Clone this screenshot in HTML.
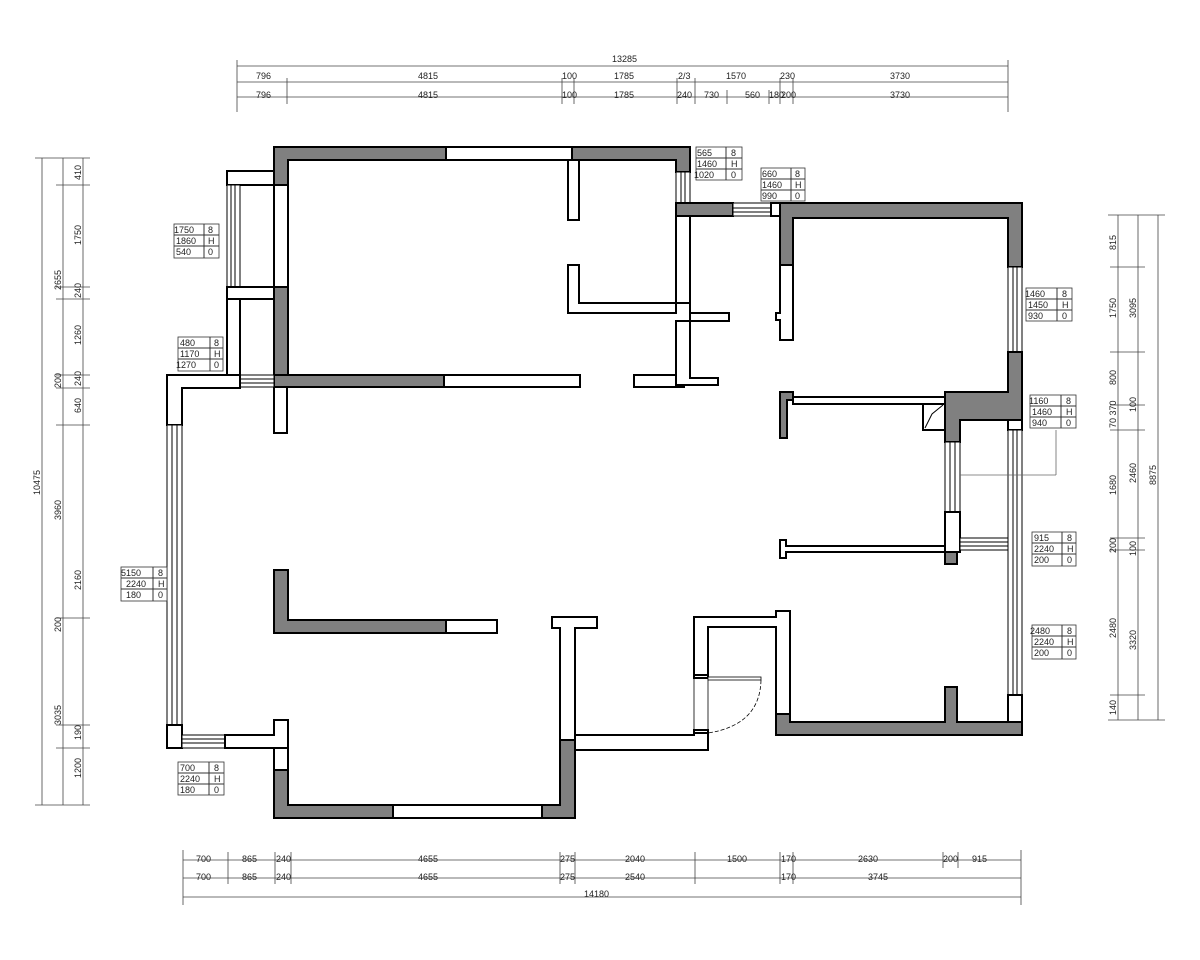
<!DOCTYPE html>
<html><head><meta charset="utf-8"><style>
body{margin:0;background:#fff}
svg{display:block}
text{font-family:"Liberation Sans",sans-serif;font-size:9px;fill:#222}
.w{fill:#fff;stroke:#000;stroke-width:2}
.g{fill:#808080;stroke:#000;stroke-width:2}
.n{fill:#808080;stroke:none}
.win{fill:#fff;stroke:#000;stroke-width:1}
.d{stroke:#444;stroke-width:0.8;fill:none}
.t rect{fill:#fff;stroke:#333;stroke-width:0.8}
</style></head><body>
<svg width="1200" height="960" viewBox="0 0 1200 960">
<!-- top dims -->
<g class="d">
<line x1="237" y1="66" x2="1008" y2="66"/><line x1="237" y1="82" x2="1008" y2="82"/><line x1="237" y1="97" x2="1008" y2="97"/>
<line x1="237" y1="60" x2="237" y2="112"/><line x1="1008" y1="60" x2="1008" y2="112"/>
<line x1="287" y1="78" x2="287" y2="104"/><line x1="562" y1="78" x2="562" y2="104"/><line x1="574" y1="78" x2="574" y2="104"/><line x1="677" y1="78" x2="677" y2="104"/><line x1="695" y1="78" x2="695" y2="104"/><line x1="727" y1="90" x2="727" y2="104"/><line x1="769" y1="90" x2="769" y2="104"/><line x1="780" y1="78" x2="780" y2="104"/><line x1="793" y1="78" x2="793" y2="104"/>
</g>
<text x="612" y="62">13285</text>
<text x="256" y="79">796</text><text x="418" y="79">4815</text><text x="562" y="79">100</text><text x="614" y="79">1785</text><text x="678" y="79">2/3</text><text x="726" y="79">1570</text><text x="780" y="79">230</text><text x="890" y="79">3730</text>
<text x="256" y="98">796</text><text x="418" y="98">4815</text><text x="562" y="98">100</text><text x="614" y="98">1785</text><text x="677" y="98">240</text><text x="704" y="98">730</text><text x="745" y="98">560</text><text x="769" y="98">180</text><text x="781" y="98">200</text><text x="890" y="98">3730</text>
<!-- bottom dims -->
<g class="d">
<line x1="183" y1="860" x2="1021" y2="860"/><line x1="183" y1="878" x2="1021" y2="878"/><line x1="183" y1="897" x2="1021" y2="897"/>
<line x1="183" y1="850" x2="183" y2="905"/><line x1="1021" y1="850" x2="1021" y2="905"/>
<line x1="228" y1="852" x2="228" y2="884"/><line x1="275" y1="852" x2="275" y2="884"/><line x1="291" y1="852" x2="291" y2="884"/><line x1="560" y1="852" x2="560" y2="884"/><line x1="575" y1="852" x2="575" y2="884"/><line x1="695" y1="852" x2="695" y2="884"/><line x1="780" y1="852" x2="780" y2="884"/><line x1="793" y1="852" x2="793" y2="884"/><line x1="943" y1="852" x2="943" y2="868"/><line x1="958" y1="852" x2="958" y2="868"/>
</g>
<text x="196" y="862">700</text><text x="242" y="862">865</text><text x="276" y="862">240</text><text x="418" y="862">4655</text><text x="560" y="862">275</text><text x="625" y="862">2040</text><text x="727" y="862">1500</text><text x="781" y="862">170</text><text x="858" y="862">2630</text><text x="943" y="862">200</text><text x="972" y="862">915</text>
<text x="196" y="880">700</text><text x="242" y="880">865</text><text x="276" y="880">240</text><text x="418" y="880">4655</text><text x="560" y="880">275</text><text x="625" y="880">2540</text><text x="781" y="880">170</text><text x="868" y="880">3745</text>
<text x="584" y="897">14180</text>
<!-- left dims -->
<g class="d">
<line x1="42" y1="158" x2="42" y2="805"/><line x1="63" y1="158" x2="63" y2="805"/><line x1="83" y1="158" x2="83" y2="805"/>
<line x1="35" y1="158" x2="90" y2="158"/><line x1="35" y1="805" x2="90" y2="805"/>
<line x1="56" y1="185" x2="90" y2="185"/><line x1="56" y1="287" x2="90" y2="287"/><line x1="56" y1="299" x2="90" y2="299"/><line x1="56" y1="375" x2="90" y2="375"/><line x1="56" y1="388" x2="90" y2="388"/><line x1="56" y1="425" x2="90" y2="425"/><line x1="56" y1="618" x2="90" y2="618"/><line x1="56" y1="725" x2="90" y2="725"/><line x1="56" y1="748" x2="90" y2="748"/>
</g>
<g font-size="8">
<text transform="translate(40,495) rotate(-90)">10475</text>
<text transform="translate(61,290) rotate(-90)">2655</text><text transform="translate(61,520) rotate(-90)">3960</text><text transform="translate(61,725) rotate(-90)">3035</text>
<text transform="translate(81,180) rotate(-90)">410</text><text transform="translate(81,245) rotate(-90)">1750</text><text transform="translate(81,298) rotate(-90)">240</text><text transform="translate(81,345) rotate(-90)">1260</text><text transform="translate(61,388) rotate(-90)">200</text><text transform="translate(81,386) rotate(-90)">240</text><text transform="translate(81,413) rotate(-90)">640</text><text transform="translate(81,590) rotate(-90)">2160</text><text transform="translate(61,632) rotate(-90)">200</text><text transform="translate(81,740) rotate(-90)">190</text><text transform="translate(81,778) rotate(-90)">1200</text>
</g>
<!-- right dims -->
<g class="d">
<line x1="1118" y1="215" x2="1118" y2="720"/><line x1="1138" y1="215" x2="1138" y2="720"/><line x1="1158" y1="215" x2="1158" y2="720"/>
<line x1="1108" y1="215" x2="1165" y2="215"/><line x1="1108" y1="720" x2="1165" y2="720"/>
<line x1="1110" y1="267" x2="1145" y2="267"/><line x1="1110" y1="352" x2="1145" y2="352"/><line x1="1110" y1="405" x2="1145" y2="405"/><line x1="1110" y1="430" x2="1145" y2="430"/><line x1="1110" y1="538" x2="1145" y2="538"/><line x1="1110" y1="550" x2="1145" y2="550"/><line x1="1110" y1="695" x2="1145" y2="695"/>
</g>
<g font-size="8">
<text transform="translate(1116,250) rotate(-90)">815</text><text transform="translate(1116,318) rotate(-90)">1750</text><text transform="translate(1116,385) rotate(-90)">800</text><text transform="translate(1116,428) rotate(-90)">70 370</text><text transform="translate(1116,495) rotate(-90)">1680</text><text transform="translate(1116,553) rotate(-90)">200</text><text transform="translate(1116,638) rotate(-90)">2480</text><text transform="translate(1116,715) rotate(-90)">140</text>
<text transform="translate(1136,318) rotate(-90)">3095</text><text transform="translate(1136,412) rotate(-90)">100</text><text transform="translate(1136,483) rotate(-90)">2460</text><text transform="translate(1136,556) rotate(-90)">100</text><text transform="translate(1136,650) rotate(-90)">3320</text>
<text transform="translate(1156,485) rotate(-90)">8875</text>
</g>
<!-- walls -->
<!-- bedroom1 -->
<rect class="w" x="227" y="171" width="50" height="14"/>
<rect class="win" x="227" y="185" width="13" height="102"/><line x1="231" y1="185" x2="231" y2="287" stroke="#000"/><line x1="235" y1="185" x2="235" y2="287" stroke="#000"/>
<rect class="w" x="227" y="287" width="61" height="12"/>
<rect class="w" x="227" y="299" width="13" height="76"/>
<path class="g" d="M274 147 H446 V160 H288 V185 H274 Z"/>
<rect class="w" x="446" y="147" width="126" height="13"/>
<path class="g" d="M572 147 H690 V172 H676 V160 H572 Z"/>
<rect class="w" x="274" y="185" width="14" height="102"/>
<rect class="g" x="274" y="287" width="14" height="90"/>
<path class="g" d="M274 375 H444 V387 H274 Z"/>
<rect class="w" x="444" y="375" width="136" height="12"/>
<rect class="w" x="274" y="387" width="13" height="46"/>
<rect class="win" x="240" y="375" width="34" height="12"/><line x1="240" y1="379" x2="274" y2="379" stroke="#000"/><line x1="240" y1="383" x2="274" y2="383" stroke="#000"/>
<path class="w" d="M167 375 H240 V388 H182 V425 H167 Z"/>
<rect class="win" x="167" y="425" width="15" height="300"/><line x1="172" y1="425" x2="172" y2="725" stroke="#000"/><line x1="177" y1="425" x2="177" y2="725" stroke="#000"/>
<rect class="w" x="167" y="725" width="15" height="23"/>
<rect class="win" x="182" y="735" width="43" height="13"/><line x1="182" y1="739" x2="225" y2="739" stroke="#000"/><line x1="182" y1="743" x2="225" y2="743" stroke="#000"/>
<path class="w" d="M225 735 H274 V720 H288 V748 H225 Z"/>
<rect class="w" x="568" y="160" width="11" height="60"/>
<path class="w" d="M568 265 H579 V303 H676 V313 H568 Z"/>
<rect class="w" x="634" y="375" width="50" height="12"/>
<!-- corridor -->
<rect class="win" x="676" y="172" width="14" height="31"/><line x1="681" y1="172" x2="681" y2="203" stroke="#000"/><line x1="685" y1="172" x2="685" y2="203" stroke="#000"/>
<path class="g" d="M676 203 H733 V216 H676 Z"/>
<path class="w" d="M676 216 H690 V313 H729 V321 H690 V303 H676 Z" />
<path class="w" d="M676 321 H690 V378 H718 V385 H676 Z"/>
<rect class="win" x="733" y="203" width="38" height="13"/><line x1="733" y1="208" x2="771" y2="208" stroke="#000"/><line x1="733" y1="212" x2="771" y2="212" stroke="#000"/>
<rect class="w" x="771" y="203" width="9" height="13"/>
<!-- bedroom2 -->
<path class="g" d="M780 203 H1022 V267 H1008 V218 H793 V265 H780 Z"/>
<path class="w" d="M780 265 H793 V340 H780 V320 H776 V313 H780 Z"/>
<rect class="win" x="1008" y="267" width="14" height="85"/><line x1="1013" y1="267" x2="1013" y2="352" stroke="#000"/><line x1="1017" y1="267" x2="1017" y2="352" stroke="#000"/>
<path class="g" d="M1008 352 H1022 V420 H960 V442 H945 V392 H1008 Z"/>
<rect class="w" x="1008" y="420" width="14" height="10"/>
<rect class="w" x="793" y="397" width="152" height="7"/>
<path class="g" d="M780 392 H793 V400 H787 V438 H780 Z"/>
<path class="w" d="M923 404 H945 V430 H923 Z"/><path d="M925 428 L932 414 L943 405" stroke="#000" fill="none"/>
<!-- right column -->
<rect class="win" x="1008" y="430" width="14" height="265"/><line x1="1013" y1="430" x2="1013" y2="695" stroke="#000"/><line x1="1017" y1="430" x2="1017" y2="695" stroke="#000"/>
<rect class="w" x="1008" y="695" width="14" height="28"/>
<rect class="win" x="945" y="442" width="15" height="70"/><line x1="950" y1="442" x2="950" y2="512" stroke="#000"/><line x1="955" y1="442" x2="955" y2="512" stroke="#000"/>
<rect class="w" x="945" y="512" width="15" height="40"/>
<rect class="g" x="945" y="552" width="12" height="12"/>
<path class="w" d="M780 540 H786 V546 H945 V552 H786 V558 H780 Z"/>
<rect class="win" x="960" y="538" width="48" height="12"/><line x1="960" y1="542" x2="1008" y2="542" stroke="#000"/><line x1="960" y1="546" x2="1008" y2="546" stroke="#000"/>
<line x1="960" y1="475" x2="1056" y2="475" stroke="#666" stroke-width="0.8"/><line x1="1056" y1="430" x2="1056" y2="475" stroke="#666" stroke-width="0.8"/>
<!-- bedroom3 bottom -->
<path class="g" d="M776 714 H790 V722 H945 V687 H957 V722 H1022 V735 H776 Z"/>
<path class="w" d="M694 617 H776 V611 H790 V714 H776 V627 H708 V675 H694 Z"/>
<!-- door -->
<rect class="w" x="694" y="675" width="14" height="3"/><rect class="w" x="694" y="730" width="14" height="3"/>
<line x1="694" y1="678" x2="694" y2="730" stroke="#000" stroke-width="0.8"/><line x1="708" y1="678" x2="708" y2="730" stroke="#000" stroke-width="0.8"/>
<rect x="708" y="677" width="53" height="3" fill="#fff" stroke="#000" stroke-width="0.8"/>
<path d="M761 680 Q760 725 708 733" stroke="#000" stroke-width="0.8" fill="none" stroke-dasharray="4 2"/>
<path class="w" d="M575 735 H694 V733 H708 V750 H575 Z"/>
<path class="w" d="M552 617 H597 V628 H575 V740 H560 V628 H552 Z"/>
<path class="g" d="M560 740 H575 V818 H542 V805 H560 Z"/>
<rect class="w" x="393" y="805" width="149" height="13"/>
<path class="g" d="M274 770 H288 V805 H393 V818 H274 Z"/>
<rect class="w" x="274" y="748" width="14" height="22"/>
<path class="g" d="M274 570 H288 V620 H446 V633 H274 Z"/>
<rect class="w" x="446" y="620" width="51" height="13"/>
<!-- tables -->
<g class="t">
<g transform="translate(696,147)"><rect width="46" height="33"/><line x1="0" y1="11" x2="46" y2="11" stroke="#333"/><line x1="0" y1="22" x2="46" y2="22" stroke="#333"/><line x1="30" y1="0" x2="30" y2="33" stroke="#333"/><text x="1" y="9">565</text><text x="1" y="20">1460</text><text x="-2" y="31">1020</text><text x="35" y="9">8</text><text x="35" y="20">H</text><text x="35" y="31">0</text></g>
<g transform="translate(761,168)"><rect width="44" height="33"/><line x1="0" y1="11" x2="44" y2="11" stroke="#333"/><line x1="0" y1="22" x2="44" y2="22" stroke="#333"/><line x1="30" y1="0" x2="30" y2="33" stroke="#333"/><text x="1" y="9">660</text><text x="1" y="20">1460</text><text x="1" y="31">990</text><text x="34" y="9">8</text><text x="34" y="20">H</text><text x="34" y="31">0</text></g>
<g transform="translate(174,224)"><rect width="45" height="34"/><line x1="0" y1="11" x2="45" y2="11" stroke="#333"/><line x1="0" y1="22" x2="45" y2="22" stroke="#333"/><line x1="30" y1="0" x2="30" y2="34" stroke="#333"/><text x="0" y="9">1750</text><text x="2" y="20">1860</text><text x="2" y="31">540</text><text x="34" y="9">8</text><text x="34" y="20">H</text><text x="34" y="31">0</text></g>
<g transform="translate(178,337)"><rect width="45" height="34"/><line x1="0" y1="11" x2="45" y2="11" stroke="#333"/><line x1="0" y1="22" x2="45" y2="22" stroke="#333"/><line x1="32" y1="0" x2="32" y2="34" stroke="#333"/><text x="2" y="9">480</text><text x="2" y="20">1170</text><text x="-2" y="31">1270</text><text x="36" y="9">8</text><text x="36" y="20">H</text><text x="36" y="31">0</text></g>
<g transform="translate(1026,288)"><rect width="46" height="33"/><line x1="0" y1="11" x2="46" y2="11" stroke="#333"/><line x1="0" y1="22" x2="46" y2="22" stroke="#333"/><line x1="31" y1="0" x2="31" y2="33" stroke="#333"/><text x="-1" y="9">1460</text><text x="2" y="20">1450</text><text x="2" y="31">930</text><text x="36" y="9">8</text><text x="36" y="20">H</text><text x="36" y="31">0</text></g>
<g transform="translate(1030,395)"><rect width="46" height="33"/><line x1="0" y1="11" x2="46" y2="11" stroke="#333"/><line x1="0" y1="22" x2="46" y2="22" stroke="#333"/><line x1="31" y1="0" x2="31" y2="33" stroke="#333"/><text x="-1" y="9">1160</text><text x="2" y="20">1460</text><text x="2" y="31">940</text><text x="36" y="9">8</text><text x="36" y="20">H</text><text x="36" y="31">0</text></g>
<g transform="translate(1032,532)"><rect width="44" height="34"/><line x1="0" y1="11" x2="44" y2="11" stroke="#333"/><line x1="0" y1="22" x2="44" y2="22" stroke="#333"/><line x1="30" y1="0" x2="30" y2="34" stroke="#333"/><text x="2" y="9">915</text><text x="2" y="20">2240</text><text x="2" y="31">200</text><text x="35" y="9">8</text><text x="35" y="20">H</text><text x="35" y="31">0</text></g>
<g transform="translate(1032,625)"><rect width="44" height="34"/><line x1="0" y1="11" x2="44" y2="11" stroke="#333"/><line x1="0" y1="22" x2="44" y2="22" stroke="#333"/><line x1="30" y1="0" x2="30" y2="34" stroke="#333"/><text x="-2" y="9">2480</text><text x="2" y="20">2240</text><text x="2" y="31">200</text><text x="35" y="9">8</text><text x="35" y="20">H</text><text x="35" y="31">0</text></g>
<g transform="translate(121,567)"><rect width="46" height="34"/><line x1="0" y1="11" x2="46" y2="11" stroke="#333"/><line x1="0" y1="22" x2="46" y2="22" stroke="#333"/><line x1="32" y1="0" x2="32" y2="34" stroke="#333"/><text x="0" y="9">5150</text><text x="5" y="20">2240</text><text x="5" y="31">180</text><text x="37" y="9">8</text><text x="37" y="20">H</text><text x="37" y="31">0</text></g>
<g transform="translate(178,762)"><rect width="46" height="33"/><line x1="0" y1="11" x2="46" y2="11" stroke="#333"/><line x1="0" y1="22" x2="46" y2="22" stroke="#333"/><line x1="31" y1="0" x2="31" y2="33" stroke="#333"/><text x="2" y="9">700</text><text x="2" y="20">2240</text><text x="2" y="31">180</text><text x="36" y="9">8</text><text x="36" y="20">H</text><text x="36" y="31">0</text></g>
</g>
</svg>
</body></html>
